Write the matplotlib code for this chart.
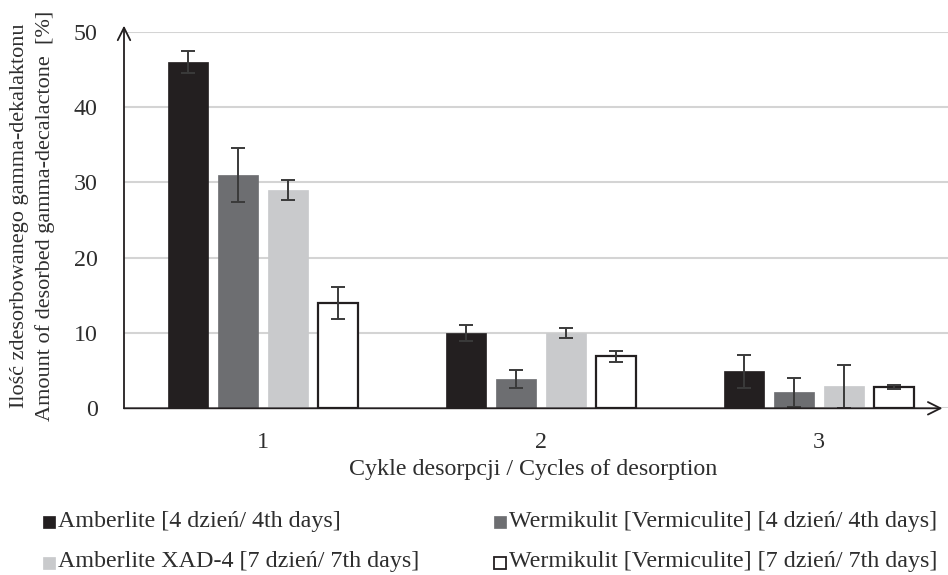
import numpy as np
import matplotlib
matplotlib.use("Agg")
import matplotlib.pyplot as plt

plt.rcParams['font.family'] = ['Liberation Serif', 'DejaVu Serif']

cycles = ["1", "2", "3"]
series_names = [
    "Amberlite [4 dzień/ 4th days]",
    "Wermikulit [Vermiculite] [4 dzień/ 4th days]",
    "Amberlite XAD-4 [7 dzień/ 7th days]",
    "Wermikulit [Vermiculite] [7 dzień/ 7th days]",
]
amberlite_4 = [46.0, 10.0, 4.9]
vermiculite_4 = [31.0, 3.9, 2.1]
xad4_7 = [29.0, 10.0, 2.9]
vermiculite_7 = [14.0, 6.9, 2.85]
amberlite_4_err = [1.45, 1.1, 2.2]
vermiculite_4_err = [3.55, 1.25, 1.95]
xad4_7_err = [1.35, 0.7, 2.8]
vermiculite_7_err = [2.1, 0.77, 0.25]
y_ticks = [0, 10, 20, 30, 40, 50]

values = [amberlite_4, vermiculite_4, xad4_7, vermiculite_7]
errors = [amberlite_4_err, vermiculite_4_err, xad4_7_err, vermiculite_7_err]
faces = ["#231f20", "#6d6e71", "#c9cacc", "#ffffff"]
edges = ["#231f20", "#6d6e71", "#c9cacc", "#231f20"]
text_color = "#2e2e2e"
fs_h = 17.3   # horizontal text
fs_v = 16     # rotated axis title

W, H = 948, 575
fig = plt.figure(figsize=(W / 100, H / 100), dpi=100)
ax_left, ax_right = 124, 948
ax_top, ax_bottom = 31.7, 408.3
ax = fig.add_axes([ax_left / W, 1 - ax_bottom / H, (ax_right - ax_left) / W,
                   (ax_bottom - ax_top) / H])

group_px = 278.0
x = np.arange(1, len(cycles) + 1)
bar_w = 40 / group_px
step = 50 / group_px
offsets = (np.arange(4) - 1.5) * step

for i in range(4):
    ax.bar(x + offsets[i], values[i], width=bar_w, color=faces[i],
           edgecolor=edges[i], linewidth=1.6 if i == 3 else 0.5, zorder=3)
    ax.errorbar(x + offsets[i], values[i], yerr=errors[i], fmt="none",
                ecolor="#3a3a3a", elinewidth=1.4, capsize=5, capthick=1.4,
                zorder=4)

ax.set_xlim(0.5, 0.5 + (ax_right - ax_left) / group_px)
ax.set_ylim(0, 50)
ax.set_yticks(y_ticks)
ax.set_yticklabels([str(t) for t in y_ticks], fontsize=fs_h, color=text_color)
ax.set_xticks(x)
ax.set_xticklabels(cycles, fontsize=fs_h, color=text_color)
ax.tick_params(axis="both", length=0)
ax.tick_params(axis="y", pad=19)
ax.tick_params(axis="x", pad=17)
ax.grid(axis="y", color="#d4d4d4", linewidth=1.5, zorder=0)
for s in ax.spines.values():
    s.set_visible(False)

# axis lines with arrowheads
arrow = dict(arrowstyle="->,head_length=0.9,head_width=0.45",
             color="#231f20", lw=1.3, shrinkA=0, shrinkB=0)
ax.annotate("", xy=(0.5, 50.8), xytext=(0.5, 0), xycoords="data",
            arrowprops=arrow, annotation_clip=False, zorder=5)
ax.annotate("", xy=(ax.get_xlim()[1] - 0.02, 0), xytext=(0.5, 0),
            xycoords="data", arrowprops=arrow, annotation_clip=False, zorder=5)

fig.text(533 / W, 1 - 469 / H, "Cykle desorpcji / Cycles of desorption",
         ha="center", va="center", fontsize=fs_h, color=text_color)
fig.text(20 / W, 1 - 216 / H, "Ilość zdesorbowanego gamma-dekalaktonu",
         rotation=90, ha="center", va="center", fontsize=fs_v, color=text_color)
fig.text(45 / W, 1 - 216 / H, "Amount of desorbed gamma-decalactone  [%]",
         rotation=90, ha="center", va="center", fontsize=fs_v, color=text_color)

# legend entries
ax_leg = fig.add_axes([0, 0, 1, 1], facecolor="none")
ax_leg.set_axis_off()
ax_leg.set_xlim(0, W)
ax_leg.set_ylim(H, 0)
legend_pos = [(43, 522), (494, 522), (43, 563), (494, 563)]
for i, (px, py) in enumerate(legend_pos):
    ax_leg.add_patch(plt.Rectangle((px, py - 6), 12, 12, facecolor=faces[i],
                                   edgecolor=edges[i],
                                   linewidth=1.3 if i == 3 else 0.5))
    ax_leg.text(px + 15, py - 1, series_names[i], ha="left", va="center",
                fontsize=fs_h, color=text_color)

fig.savefig("out.png", dpi=100)
